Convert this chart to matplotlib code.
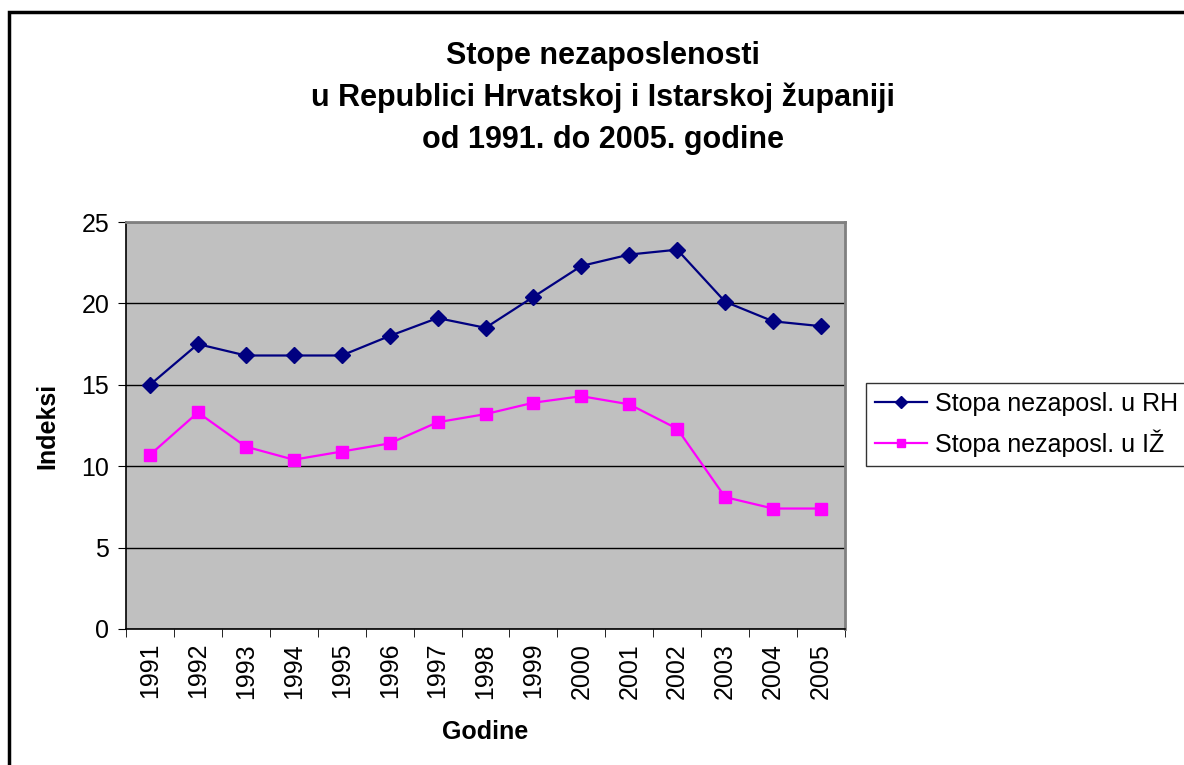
import matplotlib.pyplot as plt
from matplotlib.patches import Rectangle
import numpy as np

plt.rcParams['font.family'] = ['Liberation Sans', 'DejaVu Sans']

# podaci
godine = ['1991', '1992', '1993', '1994', '1995', '1996', '1997', '1998',
          '1999', '2000', '2001', '2002', '2003', '2004', '2005']
stopa_rh = [15.0, 17.5, 16.8, 16.8, 16.8, 18.0, 19.1, 18.5,
            20.4, 22.3, 23.0, 23.3, 20.1, 18.9, 18.6]
stopa_iz = [10.7, 13.3, 11.2, 10.4, 10.9, 11.4, 12.7, 13.2,
            13.9, 14.3, 13.8, 12.3, 8.1, 7.4, 7.4]

fig = plt.figure(figsize=(11.84, 7.65), dpi=100)
W, H = 1184, 765

# okvir oko grafikona
fig.patches.append(Rectangle((9 / W, -0.05), 1.2, 1 - 12 / H + 0.05,
                             transform=fig.transFigure, fill=False,
                             edgecolor='black', linewidth=2.5))

ax = fig.add_axes([126 / W, (H - 629) / H, 719 / W, 407 / H])
ax.set_facecolor('#c0c0c0')

x = np.arange(len(godine))
ax.plot(x, stopa_rh, color='#000080', marker='D', markersize=8,
        linewidth=1.6, label='Stopa nezaposl. u RH')
ax.plot(x, stopa_iz, color='#ff00ff', marker='s', markersize=8,
        linewidth=1.6, label='Stopa nezaposl. u IŽ')

ax.set_xlim(-0.5, len(godine) - 0.5)
ax.set_ylim(0, 25)
ax.set_yticks([0, 5, 10, 15, 20, 25])
ax.yaxis.grid(True, color='black', linewidth=1)
ax.set_axisbelow(True)

ax.set_xticks(x)
ax.set_xticklabels(godine, rotation=90, fontsize=18)
ax.tick_params(axis='x', length=0, pad=10)
ax.set_xticks(np.arange(len(godine) + 1) - 0.5, minor=True)
ax.tick_params(axis='x', which='minor', length=6, direction='out')
ax.tick_params(axis='y', labelsize=18, length=6, direction='out', pad=6)

for s in ['top', 'right']:
    ax.spines[s].set_color('#808080')
    ax.spines[s].set_linewidth(2)
ax.spines['left'].set_linewidth(1.2)
ax.spines['bottom'].set_linewidth(1.2)

ax.set_xlabel('Godine', fontsize=18, fontweight='bold', labelpad=15)
ax.set_ylabel('Indeksi', fontsize=18, fontweight='bold', labelpad=16)

fig.text(603 / W, 1 - 98 / H, 'Stope nezaposlenosti\nu Republici Hrvatskoj i Istarskoj županiji\nod 1991. do 2005. godine',
         ha='center', va='center', fontsize=22, fontweight='bold', linespacing=1.5)

leg = fig.legend(loc='upper left', bbox_to_anchor=(866 / W, 1 - 383 / H),
                 fontsize=18, frameon=True, fancybox=False, edgecolor='black',
                 handlelength=2.1, borderpad=0.35, labelspacing=0.55,
                 handletextpad=0.3, borderaxespad=0, markerscale=0.8)
leg.get_frame().set_linewidth(1)

fig.savefig('out.png', dpi=100)
